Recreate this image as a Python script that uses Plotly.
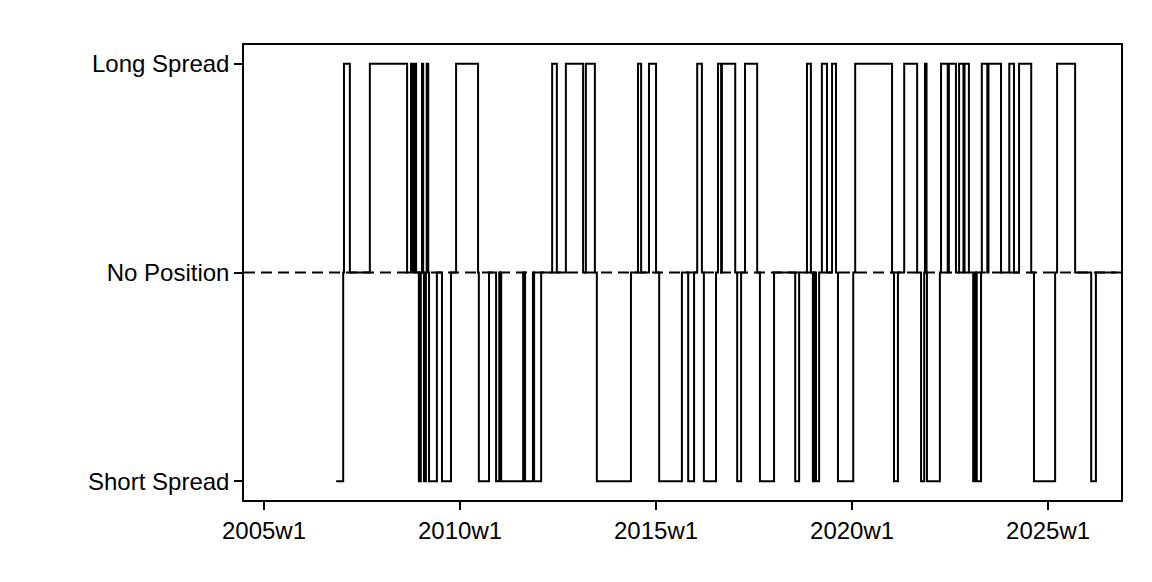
import plotly.graph_objects as go

# Position episodes (decimal years); outside episodes the state is 0 (No Position)
seg_start = [2006.84, 2007.04, 2007.70, 2008.75, 2008.83, 2008.95, 2009.03, 2009.08, 2009.15, 2009.21,
             2009.54, 2009.90, 2010.48, 2010.92, 2011.05, 2011.66, 2011.89, 2012.35, 2012.70, 2013.21,
             2013.49, 2014.54, 2014.82, 2015.08, 2015.82, 2016.05, 2016.22, 2016.58, 2016.68, 2017.07,
             2017.27, 2017.65, 2018.55, 2018.85, 2019.00, 2019.08, 2019.23, 2019.49, 2019.64, 2020.08,
             2021.07, 2021.33, 2021.76, 2021.86, 2021.91, 2022.27, 2022.47, 2022.73, 2022.87, 2023.09,
             2023.18, 2023.31, 2023.48, 2024.01, 2024.26, 2024.64, 2025.23, 2026.10]
seg_end = [2007.02, 2007.19, 2008.65, 2008.80, 2008.88, 2009.00, 2009.06, 2009.13, 2009.19, 2009.41,
           2009.77, 2010.46, 2010.74, 2011.00, 2011.61, 2011.86, 2012.07, 2012.47, 2013.14, 2013.44,
           2014.36, 2014.62, 2015.00, 2015.66, 2015.97, 2016.17, 2016.53, 2016.66, 2017.02, 2017.17,
           2017.58, 2018.01, 2018.65, 2018.95, 2019.05, 2019.16, 2019.36, 2019.59, 2020.03, 2021.02,
           2021.17, 2021.66, 2021.84, 2021.90, 2022.24, 2022.44, 2022.65, 2022.84, 2022.98, 2023.14,
           2023.29, 2023.45, 2023.80, 2024.13, 2024.57, 2025.18, 2025.69, 2026.22]
seg_state = [-1, 1, 1, 1, 1, -1, 1, -1, 1, -1,
             -1, 1, -1, -1, -1, -1, -1, 1, 1, 1,
             -1, 1, 1, -1, -1, 1, -1, 1, 1, -1,
             1, -1, -1, 1, -1, -1, 1, 1, -1, 1,
             -1, 1, -1, 1, -1, 1, 1, 1, 1, -1,
             -1, 1, 1, 1, 1, -1, 1, -1]
series_end = 2026.73

tick_vals = [2005, 2010, 2015, 2020, 2025]
tick_text = ["2005w1", "2010w1", "2015w1", "2020w1", "2025w1"]
y_labels = ["Short Spread", "No Position", "Long Spread"]

xs, ys = [], []
for i, (s, e, v) in enumerate(zip(seg_start, seg_end, seg_state)):
    xs += [s, e]
    ys += [v, 0]
xs.append(series_end)
ys.append(0)

fig = go.Figure()
fig.add_trace(go.Scatter(x=[2004.49, 2026.86], y=[0, 0], mode="lines",
                         line=dict(color="black", width=2, dash="11px,6px"), hoverinfo="skip"))
fig.add_trace(go.Scatter(x=xs, y=ys, mode="lines", line_shape="hv",
                         line=dict(color="black", width=2)))

font = dict(family="Liberation Sans, Arial, sans-serif", size=24, color="black")
fig.update_layout(
    width=1152, height=582, showlegend=False,
    paper_bgcolor="white", plot_bgcolor="white",
    margin=dict(l=236, r=39, t=37, b=90), font=font,
)
fig.update_xaxes(range=[2004.49, 2026.86], tickvals=tick_vals, ticktext=tick_text,
                 ticks="outside", ticklen=8, tickwidth=1.5, tickcolor="black",
                 showgrid=False, zeroline=False, showline=True, linecolor="black",
                 linewidth=1.5, mirror=True)
fig.update_yaxes(range=[-1.09, 1.09], tickvals=[-1, 0, 1], ticktext=y_labels,
                 ticks="outside", ticklen=8, tickwidth=1.5, tickcolor="black",
                 showgrid=False, zeroline=False, showline=True, linecolor="black",
                 linewidth=1.5, mirror=True)
fig.write_html("out.html")
